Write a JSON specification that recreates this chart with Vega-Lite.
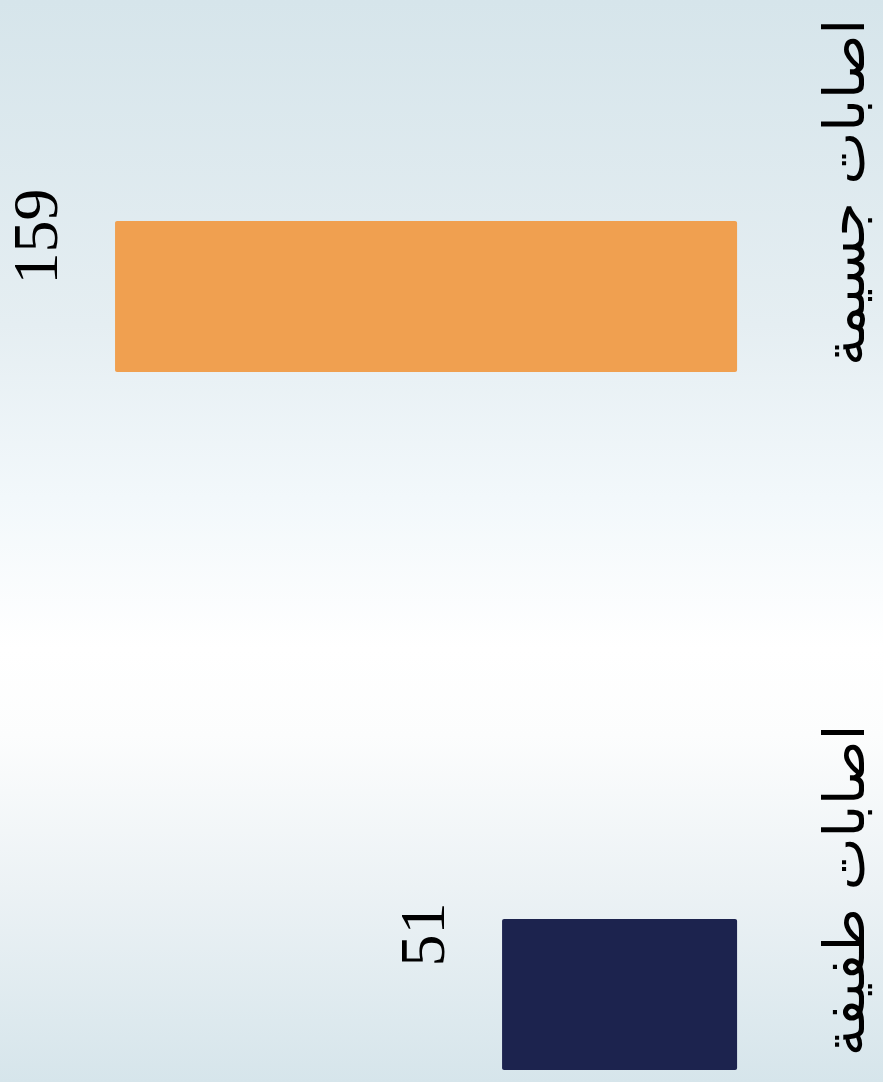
{
  "$schema": "https://vega.github.io/schema/vega-lite/v6.json",
  "width": 883,
  "height": 1082,
  "autosize": {"type": "none"},
  "padding": 0,
  "background": "#ffffff",
  "config": {
    "view": {
      "stroke": null,
      "fill": {
        "gradient": "linear",
        "x1": 0, "y1": 0, "x2": 0, "y2": 1,
        "stops": [
          {"offset": 0, "color": "#d6e5eb"},
          {"offset": 0.3, "color": "#e5eef2"},
          {"offset": 0.46, "color": "#f2f8fb"},
          {"offset": 0.6, "color": "#ffffff"},
          {"offset": 0.68, "color": "#fcfdfd"},
          {"offset": 0.82, "color": "#ecf2f5"},
          {"offset": 1, "color": "#d6e5eb"}
        ]
      }
    }
  },
  "data": {
    "values": [
      {"category": "اصابات جسيمة", "value": 159},
      {"category": "اصابات طفيفة", "value": 51}
    ]
  },
  "encoding": {
    "y": {
      "field": "category",
      "type": "nominal",
      "sort": null,
      "scale": {"paddingInner": 0.7837, "paddingOuter": 0.1669, "align": 0.9485},
      "axis": {
        "orient": "right",
        "title": null,
        "domain": false,
        "ticks": false,
        "grid": false,
        "labelAngle": 270,
        "labelAlign": "center",
        "labelBaseline": "alphabetic",
        "labelPadding": -20,
        "labelOffset": -104,
        "labelFont": "DejaVu Sans",
        "labelFontSize": 56,
        "labelColor": "#000000",
        "labelLimit": 0
      }
    },
    "x": {
      "field": "value",
      "type": "quantitative",
      "scale": {"domain": [-55.3, 191.1], "reverse": true, "zero": false, "nice": false},
      "axis": null
    }
  },
  "layer": [
    {
      "mark": {"type": "bar", "cornerRadius": 2},
      "encoding": {
        "x2": {"datum": -14.58},
        "color": {
          "field": "category",
          "type": "nominal",
          "scale": {"domain": ["اصابات جسيمة", "اصابات طفيفة"], "range": ["#f0a050", "#1c234e"]},
          "legend": null
        }
      }
    },
    {
      "mark": {
        "type": "text",
        "angle": 270,
        "align": "center",
        "baseline": "middle",
        "dx": 60,
        "dy": -77,
        "font": "Liberation Serif",
        "fontSize": 64,
        "color": "#000000"
      },
      "encoding": {
        "text": {"field": "value", "type": "quantitative"}
      }
    }
  ]
}
